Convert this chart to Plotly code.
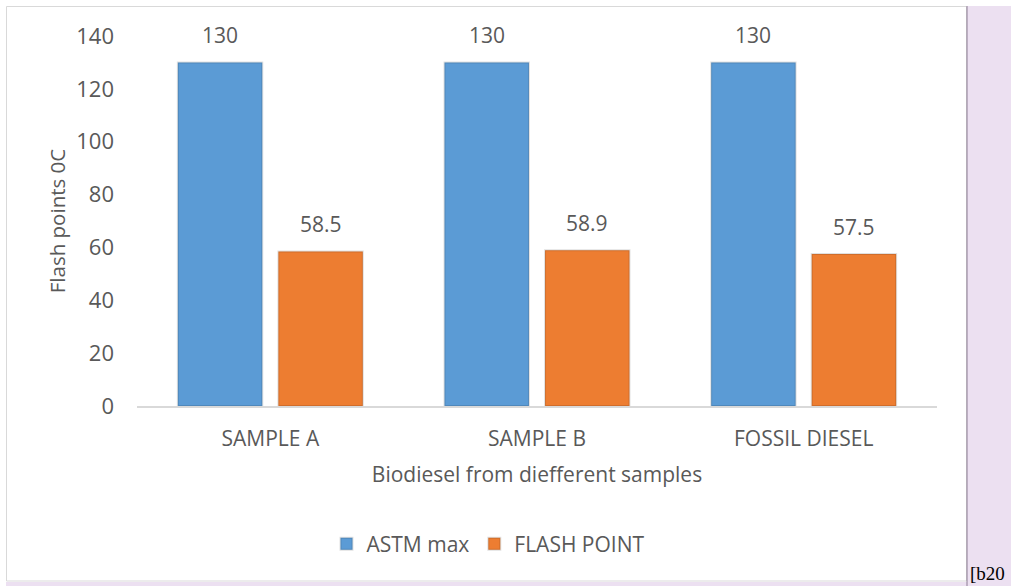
import plotly.graph_objects as go

categories = ["SAMPLE A", "SAMPLE B", "FOSSIL DIESEL"]
astm_max = [130, 130, 130]
flash_point = [58.5, 58.9, 57.5]
series_names = ["ASTM max", "FLASH POINT"]
y_ticks = [0, 20, 40, 60, 80, 100, 120, 140]

W, H = 1011, 586
L, R, T, B = 137, 74, 36, 180
PW, PH = W - L - R, H - T - B

def px_x(px):
    return (px - L) / PW

def px_y(py):
    return (H - B - py) / PH

BARGAP = 0.246
GROUPGAP = 0.16
off = (1 - BARGAP) / 4

FONT = "Open Sans, Lato, sans-serif"
TXT = "#595959"
FS = 21

xs = list(range(len(categories)))
fig = go.Figure()
fig.add_trace(go.Bar(x=xs, y=astm_max, name=series_names[0],
                     marker=dict(color="#5B9BD5", line=dict(color="rgba(0,0,0,0.12)", width=2))))
fig.add_trace(go.Bar(x=xs, y=flash_point, name=series_names[1],
                     marker=dict(color="#ED7D31", line=dict(color="rgba(0,0,0,0.12)", width=2))))

annotations = []
for i in xs:
    for vals, sgn in ((astm_max, -1), (flash_point, 1)):
        v = vals[i]
        annotations.append(dict(x=i + sgn * off, y=v, xref="x", yref="y",
                                text=("%g" % v), showarrow=False, yanchor="middle",
                                yshift=27, font=dict(family=FONT, size=FS, color=TXT)))
annotations.append(dict(x=px_x(968), y=px_y(586), xref="paper", yref="paper",
                        text="[b20", showarrow=False, xanchor="left", yanchor="bottom",
                        font=dict(family="Liberation Serif, serif", size=19, color="#000000")))

shapes = [
    # chart frame
    dict(type="rect", xref="paper", yref="paper", x0=px_x(6.5), x1=px_x(966.5),
         y0=px_y(581), y1=px_y(6.5), line=dict(color="#D9D9D9", width=1), fillcolor="rgba(0,0,0,0)", layer="below"),
    # lavender page on right and bottom
    dict(type="rect", xref="paper", yref="paper", x0=px_x(967), x1=px_x(1012),
         y0=px_y(587), y1=px_y(6), line=dict(width=0), fillcolor="#ECE0F1", layer="below"),
    dict(type="rect", xref="paper", yref="paper", x0=px_x(6), x1=px_x(1012),
         y0=px_y(587), y1=px_y(582), line=dict(width=0), fillcolor="#ECE0F1", layer="below"),
    dict(type="line", xref="paper", yref="paper", x0=px_x(967), x1=px_x(967),
         y0=px_y(587), y1=px_y(6), line=dict(color="#8C7C94", width=1)),
]

fig.update_layout(
    width=W, height=H,
    margin=dict(l=L, r=R, t=T, b=B, pad=0),
    paper_bgcolor="white", plot_bgcolor="white",
    barmode="group", bargap=BARGAP, bargroupgap=GROUPGAP,
    font=dict(family=FONT, size=FS, color=TXT),
    xaxis=dict(range=[-0.5, 2.5], tickvals=xs, ticktext=categories,
               showgrid=False, zeroline=False, showline=True, linecolor="#D9D9D9", linewidth=2,
               ticks="", ticklabelstandoff=13, tickfont=dict(size=FS, color=TXT),
               title=dict(text="Biodiesel from diefferent samples", standoff=16,
                          font=dict(size=FS, color=TXT))),
    yaxis=dict(range=[0, 140], tickvals=y_ticks, showgrid=False, zeroline=False,
               showline=False, ticks="", ticklabelstandoff=22, tickfont=dict(size=22, color=TXT),
               title=dict(text="Flash points 0C", standoff=5, font=dict(size=20.5, color=TXT))),
    legend=dict(orientation="h", x=px_x(488), xanchor="center", y=px_y(544), yanchor="middle",
                font=dict(size=FS, color=TXT), itemwidth=30, traceorder="normal"),
    annotations=annotations, shapes=shapes,
)

fig.write_html("out.html")
